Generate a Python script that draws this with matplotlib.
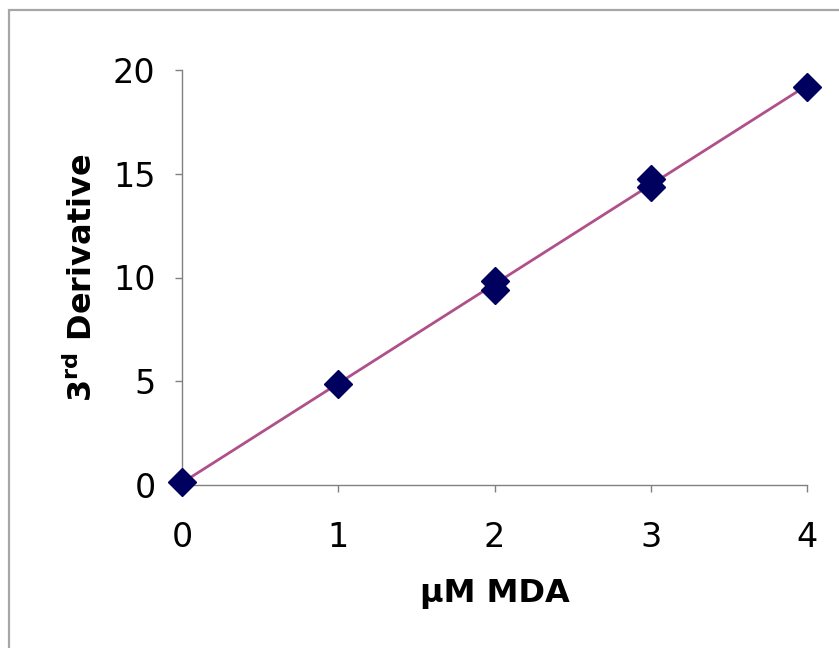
import numpy as np
import matplotlib
matplotlib.use('Agg')
import matplotlib.pyplot as plt
from matplotlib.patches import Rectangle

# MDA standards (two replicates at 2 and 3 uM)
conc = [0, 1, 2, 2, 3, 3, 4]
deriv = [0.15, 4.85, 9.85, 9.4, 14.75, 14.35, 19.2]
x_ticks = [0, 1, 2, 3, 4]
y_ticks = [0, 5, 10, 15, 20]

plt.rcParams['font.family'] = 'DejaVu Sans'
plt.rcParams['mathtext.fontset'] = 'dejavusans'

fig = plt.figure(figsize=(8.39, 6.48), dpi=100)
ax = fig.add_axes([182 / 839, 1 - 485 / 648, 625 / 839, 415 / 648])

# trendline through the standards
slope, icpt = np.polyfit(conc, deriv, 1)
xl = np.array([min(conc), max(conc)])
ax.plot(xl, slope * xl + icpt, color='#B0508A', lw=2, zorder=2)

ax.plot(conc, deriv, linestyle='none', marker='D', ms=14,
        color='#00005E', mec='#00005E', clip_on=False, zorder=3)

ax.set_xlim(0, 4)
ax.set_ylim(0, 20)
ax.set_xticks(x_ticks)
ax.set_yticks(y_ticks)
ax.tick_params(labelsize=24, direction='out', length=5, width=1,
               color='#808080')
ax.tick_params(axis='x', pad=21)
ax.tick_params(axis='y', pad=14)
for side in ['top', 'right']:
    ax.spines[side].set_visible(False)
for side in ['left', 'bottom']:
    ax.spines[side].set_color('#808080')
    ax.spines[side].set_linewidth(1)

ax.set_xlabel('μM MDA', fontsize=23, fontweight='bold', labelpad=17)
ax.set_ylabel(r'$\mathbf{3^{rd}}$ Derivative', fontsize=23, fontweight='bold',
              labelpad=10)

# outer chart-area border
fig.patches.append(Rectangle((9 / 839, -0.1), 1.2, 1 - 10 / 648 + 0.1,
                             transform=fig.transFigure, fill=False,
                             ec='#A6A6A6', lw=1.6))

fig.savefig('out.png', dpi=100)
